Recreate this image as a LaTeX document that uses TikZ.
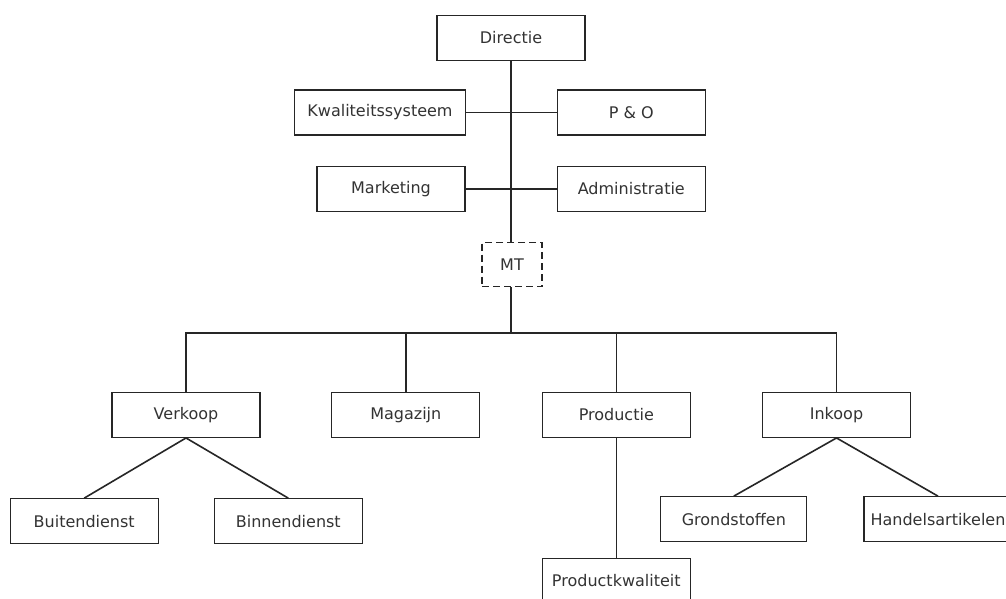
\documentclass[tikz,border=0pt]{standalone}
\usepackage{fontspec}
\setmainfont{DejaVu Sans}
\usepackage{tikz}

\begin{document}
\begin{tikzpicture}[x=1pt, y=-1pt,
  unit/.style={draw=black!85, line width=1.3pt, text=black!80, inner sep=0pt,
    minimum width=148pt, minimum height=45pt, font=\fontsize{16}{19}\selectfont},
  tmbox/.style={unit, dash pattern=on 7pt off 4pt, minimum width=60pt, minimum height=44pt},
  link/.style={draw=black!85, line width=1.6pt}]
\useasboundingbox[fill=white] (0,0) rectangle (1006,599);

%top
\node[unit] (dir) at (511,38) {Directie};
\node[unit, minimum width=171pt] (kws) at (380,112.5) {Kwaliteitssysteem};
\node[unit] (po) at (631.3,112.5) {P \& O};
\node[unit] (mkt) at (391,189) {Marketing};
\node[unit] (adm) at (631.3,189) {Administratie};
\node[tmbox] (mt) at (512,264.5) {MT};

%departments
\node[unit] (vk) at (186,414.8) {Verkoop};
\node[unit] (mag) at (405.8,414.8) {Magazijn};
\node[unit] (prod) at (616.3,414.8) {Productie};
\node[unit] (ink) at (836.5,414.8) {Inkoop};

\node[unit] (bui) at (84.2,521.3) {Buitendienst};
\node[unit] (bin) at (288.3,521.3) {Binnendienst};
\node[unit, minimum width=146pt] (gro) at (733.8,519.3) {Grondstoffen};
\node[unit] (han) at (938,519.3) {Handelsartikelen};
\node[unit] (pk) at (616.3,581) {Productkwaliteit};

\coordinate (bus) at (511,332.7);

\draw[link] (dir.south) -- (dir.south |- mt.north);
\draw[link] (kws.east) -- (po.west);
\draw[link] (mkt.east) -- (adm.west);
\draw[link] (mt.south -| dir.south) -- (bus);
\draw[link] (vk.north) -- (vk.north |- bus) -- (ink.north |- bus) -- (ink.north);
\draw[link] (mag.north) -- (mag.north |- bus);
\draw[link] (prod.north) -- (prod.north |- bus);

\draw[link] (bui.north) -- (vk.south) -- (bin.north);
\draw[link] (gro.north) -- (ink.south) -- (han.north);
\draw[link] (prod.south) -- (pk.north);

\end{tikzpicture}
\end{document}
